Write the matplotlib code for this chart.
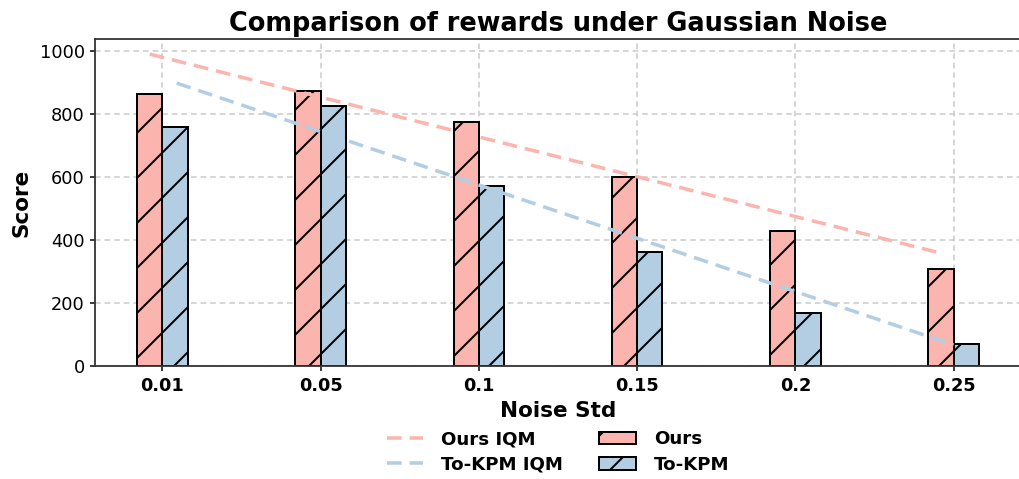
import matplotlib
matplotlib.use("Agg")
import matplotlib.pyplot as plt
import numpy as np

# data
noise_labels = ["0.01", "0.05", "0.1", "0.15", "0.2", "0.25"]
ours = [863, 874, 774, 601, 430, 309]
to_kpm = [759, 825, 572, 362, 169, 70]

# IQM trend lines (start / end, in category index units)
ours_iqm_x = [-0.08, 4.89]
ours_iqm_y = [990, 362]
kpm_iqm_x = [0.09, 5.0]
kpm_iqm_y = [898, 67]

ours_color = "#FBB4AE"
kpm_color = "#B3CDE3"

# dpi picked so the "/" hatch spacing matches the reference (~45 px)
DPI = 135
W, H = 1019, 479


def pt(px):
    # pixel size -> points at the figure dpi
    return px * 72.0 / DPI


plt.rcParams["hatch.linewidth"] = pt(2.0)
plt.rcParams["font.family"] = "DejaVu Sans"

fig = plt.figure(figsize=(W / DPI, H / DPI), dpi=DPI)
ax = fig.add_axes([95 / W, 1 - 366 / H, 926 / W, 327 / H])

x = np.arange(len(noise_labels))
width = 0.16

ax.grid(True, linestyle=(0, (3.5, 2.5)), color="#cccccc", linewidth=pt(1.6), zorder=0)

ax.plot(ours_iqm_x, ours_iqm_y, color=ours_color, linewidth=pt(3.5),
        dashes=(4.2, 2.3), label="Ours IQM", zorder=3)
ax.plot(kpm_iqm_x, kpm_iqm_y, color=kpm_color, linewidth=pt(3.5),
        dashes=(4.2, 2.3), label="To-KPM IQM", zorder=3)

ax.bar(x - width / 2, ours, width, color=ours_color, edgecolor="black",
       linewidth=pt(2.0), hatch="/", label="Ours", zorder=2)
ax.bar(x + width / 2, to_kpm, width, color=kpm_color, edgecolor="black",
       linewidth=pt(2.0), hatch="/", label="To-KPM", zorder=2)

ax.set_ylim(0, 1038)
ax.set_xticks(x)
ax.set_xticklabels(noise_labels, fontweight="bold")
ax.tick_params(axis="x", labelsize=pt(17.7), length=pt(5), width=pt(1.5), pad=pt(6))
ax.tick_params(axis="y", labelsize=pt(17.7), length=pt(5), width=pt(1.5), pad=pt(5))
for s in ax.spines.values():
    s.set_linewidth(pt(1.8))
    s.set_color("#333333")

ax.set_xlabel("Noise Std", fontsize=pt(21.5), fontweight="bold", labelpad=pt(6))
ax.set_ylabel("Score", fontsize=pt(21.5), fontweight="bold", labelpad=pt(8))
ax.set_title("Comparison of rewards under Gaussian Noise", fontsize=pt(25.6),
             fontweight="bold", pad=pt(8))

leg = ax.legend(loc="center", bbox_to_anchor=(0.5, -0.263), ncol=2,
                frameon=False, prop={"size": pt(18.2), "weight": "bold"},
                handlelength=2.0, columnspacing=2.0, handletextpad=1.0,
                labelspacing=0.4)

fig.savefig("out.png", dpi=DPI)
